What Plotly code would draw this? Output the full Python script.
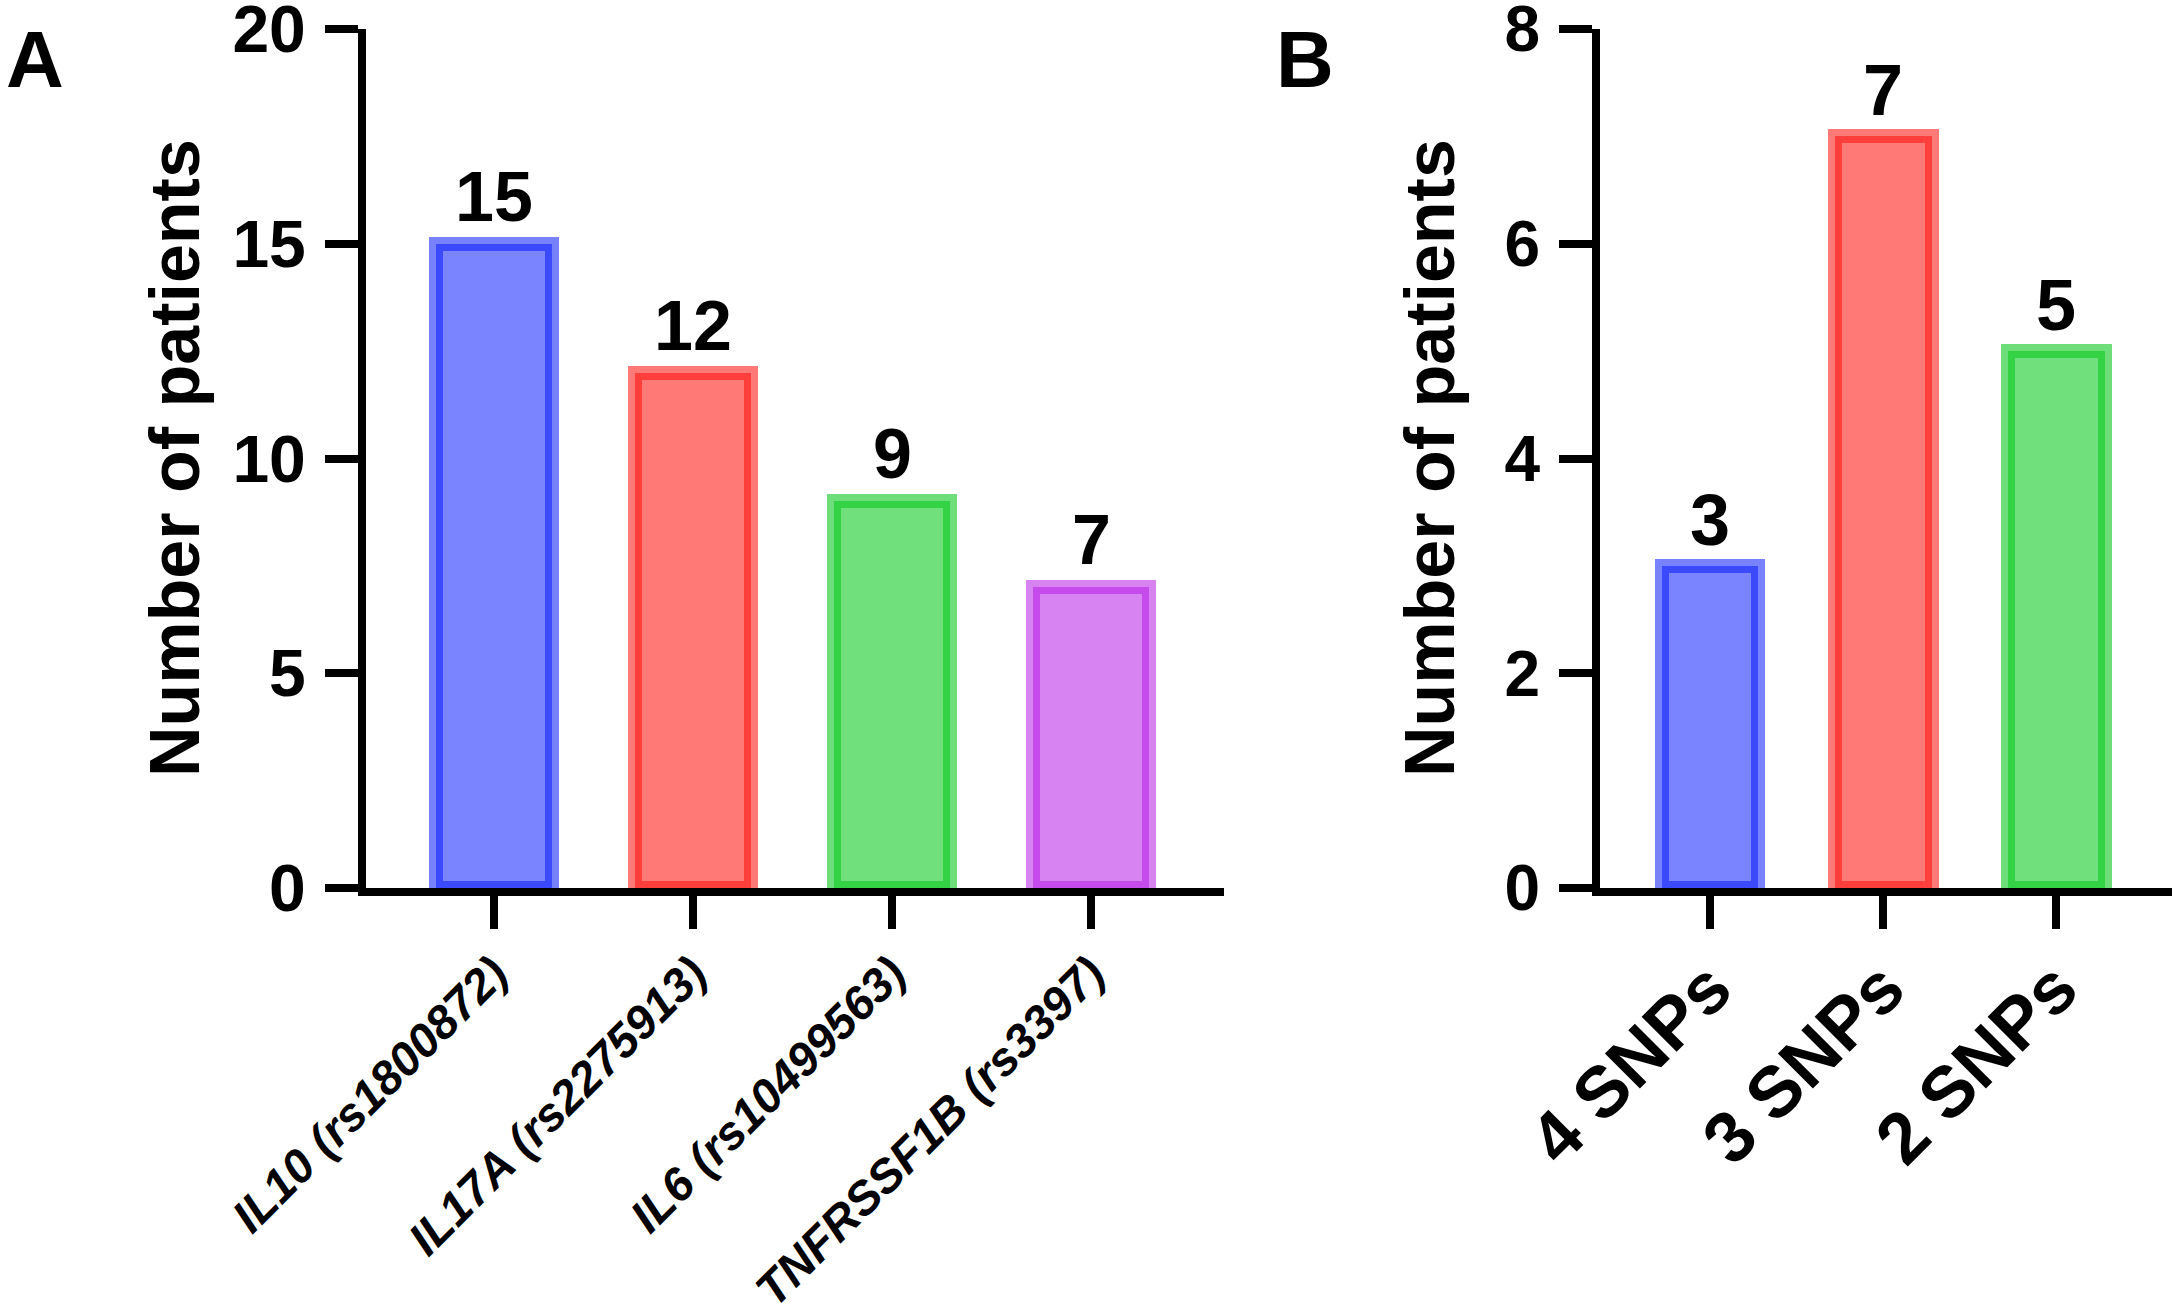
import plotly.graph_objects as go

# ---- data ----
genes = ["IL10 (rs1800872)", "IL17A (rs2275913)", "IL6 (rs10499563)", "TNFRSSF1B (rs3397)"]
gene_counts = [15, 12, 9, 7]
snp_groups = ["4 SNPs", "3 SNPs", "2 SNPs"]
snp_counts = [3, 7, 5]
yticks_a = [0, 5, 10, 15, 20]
yticks_b = [0, 2, 4, 6, 8]

# ---- styles ----
fills_a = ["#7B84FF", "#FF7A77", "#6FE07B", "#D783F1"]
lines_a = ["rgba(10,27,255,0.55)", "rgba(255,20,15,0.57)", "rgba(13,200,33,0.6)", "rgba(182,30,229,0.55)"]
fills_b = fills_a[:3]
lines_b = lines_a[:3]

W, H = 2175, 1310
FONT = "Liberation Sans, Arial, sans-serif"

fig = go.Figure()
fig.add_trace(go.Bar(
    x=list(range(len(genes))), y=gene_counts, width=0.58,
    marker=dict(color=fills_a, line=dict(color=lines_a, width=14)),
    xaxis="x", yaxis="y", showlegend=False, hoverinfo="skip"))
fig.add_trace(go.Bar(
    x=list(range(len(snp_groups))), y=snp_counts, width=0.56,
    marker=dict(color=fills_b, line=dict(color=lines_b, width=14)),
    xaxis="x2", yaxis="y2", showlegend=False, hoverinfo="skip"))

def px_x(p):
    return p / W

def px_y(p):
    return 1 - p / H

axis_common = dict(showline=True, linewidth=8, linecolor="black", ticks="outside",
                   ticklen=33, tickwidth=8, tickcolor="black", showgrid=False,
                   zeroline=False, fixedrange=True, automargin=False,
                   ticklabeloverflow="allow")

fig.update_layout(
    width=W, height=H, margin=dict(l=0, r=0, t=0, b=0, pad=0, autoexpand=False),
    paper_bgcolor="white", plot_bgcolor="white", bargap=0,
    xaxis=dict(domain=[px_x(366), px_x(1224)], range=[-0.643, 3.668],
               tickmode="array", tickvals=list(range(len(genes))), ticktext=genes,
               tickangle=-45, anchor="y", ticklabelstandoff=-2,
               tickfont=dict(family=FONT, size=47, color="black", weight="bold", style="italic"),
               **axis_common),
    yaxis=dict(domain=[px_y(888), px_y(29)], range=[0, 20], anchor="x",
               tickmode="array", tickvals=yticks_a, ticklabelstandoff=6,
               tickfont=dict(family=FONT, size=66, color="black", weight="bold"),
               **axis_common),
    xaxis2=dict(domain=[px_x(1600), px_x(2172)], range=[-0.636, 2.67],
                tickmode="array", tickvals=list(range(len(snp_groups))), ticktext=snp_groups,
                tickangle=-45, anchor="y2", ticklabelstandoff=-12,
                tickfont=dict(family=FONT, size=72, color="black", weight="bold"),
                **axis_common),
    yaxis2=dict(domain=[px_y(888), px_y(29)], range=[0, 8], anchor="x2",
                tickmode="array", tickvals=yticks_b, ticklabelstandoff=6,
                tickfont=dict(family=FONT, size=64, color="black", weight="bold"),
                **axis_common),
)

ann = []
for i, v in enumerate(gene_counts):
    ann.append(dict(x=i, y=v, xref="x", yref="y", text=str(v), showarrow=False,
                    yanchor="bottom", yshift=6,
                    font=dict(family=FONT, size=70, color="black", weight="bold")))
for i, v in enumerate(snp_counts):
    ann.append(dict(x=i, y=v, xref="x2", yref="y2", text=str(v), showarrow=False,
                    yanchor="bottom", yshift=4,
                    font=dict(family=FONT, size=72, color="black", weight="bold")))
# axis titles
for cx in (175, 1430):
    ann.append(dict(x=px_x(cx), y=px_y(458), xref="paper", yref="paper",
                    text="Number of patients", textangle=-90, showarrow=False,
                    xanchor="center", yanchor="middle",
                    font=dict(family=FONT, size=70, color="black", weight="bold")))
# panel letters
for letter, cx in (("A", 35), ("B", 1305)):
    ann.append(dict(x=px_x(cx), y=px_y(60), xref="paper", yref="paper",
                    text=letter, showarrow=False, xanchor="center", yanchor="middle",
                    font=dict(family=FONT, size=80, color="black", weight="bold")))
fig.update_layout(annotations=ann)

fig.write_html("out.html", config={"displayModeBar": False},
               post_script="document.body.style.margin='0px';")
